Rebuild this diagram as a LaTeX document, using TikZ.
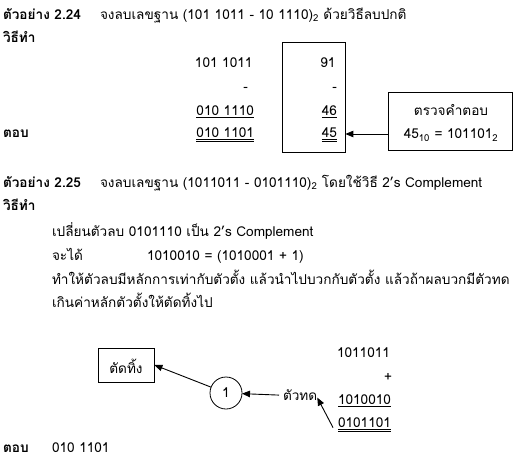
\documentclass[tikz,border=0pt]{standalone}
\usepackage{fontspec}
\setmainfont[Script=Thai]{Loma}
\usetikzlibrary{arrows.meta}
\newcommand{\dul}[1]{\underline{\underline{#1}}}
\begin{document}
\begin{tikzpicture}[x=1pt,y=-1pt,
  txt/.style={inner sep=0pt,outer sep=0pt,font=\fontsize{13.6pt}{16pt}\selectfont},
  bx/.style={draw,line width=0.8pt,inner sep=0pt},
  arr/.style={line width=0.9pt,-{Triangle[length=8pt,width=6.5pt]}}]
\useasboundingbox (0,0) rectangle (526,462);
% ---- example 2.24
\node[txt,anchor=base west] (t1) at (3,19.5) {\textbf{ตัวอย่าง 2.24}};
\node[txt,anchor=base west] (q1) at (100,19.5) {จงลบเลขฐาน  (101 1011 - 10 1110)\textsubscript{2} ด้วยวิธีลบปกติ};
\node[txt,anchor=base west] (w1) at (3,43) {\textbf{วิธีทำ}};
\node[bx,minimum width=63pt,minimum height=110pt] (box1) at (313.5,97) {};
\node[txt,anchor=base east] (a1) at (252.5,68) {101 1011};
\node[txt,anchor=base east] (m1) at (248,91.5) {-};
\node[txt,anchor=base east] (b1) at (254,115.5) {\underline{010 1110}};
\node[txt,anchor=base west] (ans1) at (3,137.5) {\textbf{ตอบ}};
\node[txt,anchor=base east] (r1) at (254,137.5) {\dul{010 1101}};
\node[txt,anchor=base east] (n91) at (335.5,68) {91};
\node[txt,anchor=base east] (m2) at (337,91.5) {-};
\node[txt,anchor=base east] (n46) at (337,115.5) {\underline{46}};
\node[txt,anchor=base east] (n45) at (337,137.5) {\dul{45}};
\node[bx,minimum width=124pt,minimum height=58pt] (box2) at (450,121) {};
\node[txt,anchor=base] (chk) at (451,116) {ตรวจคำตอบ};
\node[txt,anchor=base] (eq) at (451,139) {45\textsubscript{10} = 101101\textsubscript{2}};
\coordinate (arr1) at (0,134);
\draw[arr] (box2.west |- arr1) -- (box1.east |- arr1);
% ---- example 2.25
\node[txt,anchor=base west] (t2) at (3,187.3) {\textbf{ตัวอย่าง 2.25}};
\node[txt,anchor=base west] (q2) at (100,187.3) {จงลบเลขฐาน (1011011 - 0101110)\textsubscript{2} โดยใช้วิธี 2’s Complement};
\node[txt,anchor=base west] (w2) at (3,210.7) {\textbf{วิธีทำ}};
\node[txt,anchor=base west] (l1) at (52,236) {เปลี่ยนตัวลบ 0101110 เป็น 2’s Complement};
\node[txt,anchor=base west] (l2) at (52,260.5) {จะได้};
\node[txt,anchor=base west] (l2b) at (147,260.5) {1010010 = (1010001 + 1)};
\node[txt,anchor=base west] (l3) at (52,284.3) {ทำให้ตัวลบมีหลักการเท่ากับตัวตั้ง แล้วนำไปบวกกับตัวตั้ง แล้วถ้าผลบวกมีตัวทด};
\node[txt,anchor=base west] (l4) at (52,307.7) {เกินค่าหลักตัวตั้งให้ตัดทิ้งไป};
% ---- carry diagram
\node[bx,minimum width=56pt,minimum height=34pt] (cut) at (126,365) {};
\node[txt] (cutt) at (126,366) {ตัดทิ้ง};
\node[draw,circle,line width=0.8pt,minimum size=32pt,inner sep=0pt,txt] (c1) at (226,393) {1};
\node[txt,anchor=base west] (carry) at (283,400.5) {ตัวทด};
\node[txt,anchor=base east] (s0) at (390,357) {1011011};
\node[txt,anchor=base east] (plus) at (392,381) {+};
\node[txt,anchor=base east] (s1) at (391,404.5) {\underline{1010010}};
\node[txt,anchor=base east] (s2) at (391,427.5) {\dul{0101101}};
\draw[arr] ([xshift=-4pt]carry.west) -- (c1);
\draw[arr] (c1) -- (cut.east);
\draw[arr] ([xshift=-5pt,yshift=-3pt]s2.west) -- ([xshift=0pt,yshift=3pt]carry.south east);
\node[txt,anchor=base west] (ans2) at (3,452.5) {\textbf{ตอบ}};
\node[txt,anchor=base west] (r2) at (52,452.5) {010 1101};
\end{tikzpicture}
\end{document}
